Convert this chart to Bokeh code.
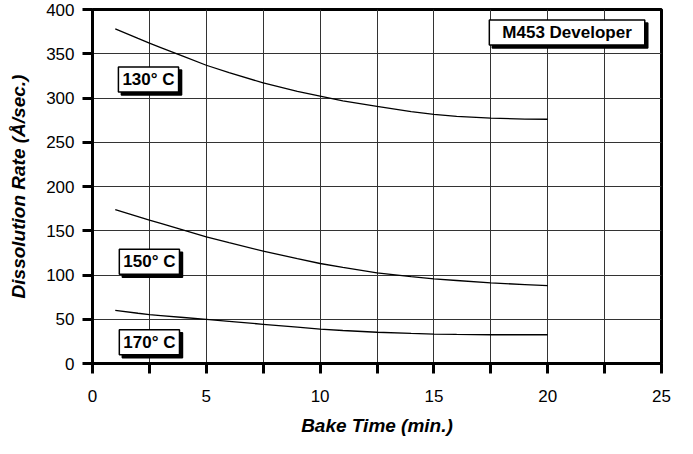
from bokeh.plotting import figure
from bokeh.models import FixedTicker, Label, Range1d
from bokeh.embed import file_html
from bokeh.resources import INLINE

bake_time = [1, 2, 2.5, 3, 4, 5, 6, 7.5, 9, 10, 11, 12.5, 14, 15, 16, 17.5, 19, 20]
rate_130 = [378, 367.3, 362, 357, 347, 337, 328.8, 317, 307.5, 302, 296.8, 290.5, 284.5, 281.5, 279.2, 277.2, 276.2, 276]
rate_150 = [174, 166, 162, 158.3, 150.6, 143, 136.5, 127, 118.5, 113, 108.6, 102.5, 98.2, 95.6, 93.8, 91, 89.2, 88]
rate_170 = [60, 56.8, 55.3, 54.2, 52, 49.8, 47.6, 44.3, 41, 38.8, 37.3, 35.3, 34, 33.3, 32.9, 32.5, 32.5, 32.5]

label_texts = ["130° C", "150° C", "170° C", "M453 Developer"]
label_x = [2.46, 2.5, 2.5, 20.85]
label_y = [321, 115, 24, 374]
label_pad_x = [4, 4, 4, 13]

x_ticks = [0, 2.5, 5, 7.5, 10, 12.5, 15, 17.5, 20, 22.5, 25]
y_ticks = [0, 50, 100, 150, 200, 250, 300, 350, 400]

FONT = "Liberation Sans"

p = figure(width=677, height=438, output_backend="svg", toolbar_location=None,
           x_range=Range1d(0, 25), y_range=Range1d(0, 400),
           min_border_left=92, min_border_right=16, min_border_top=9, min_border_bottom=69)

p.outline_line_color = "black"
p.outline_line_width = 3
p.background_fill_color = "white"
p.border_fill_color = "white"

p.xaxis.ticker = FixedTicker(ticks=x_ticks)
p.yaxis.ticker = FixedTicker(ticks=y_ticks)
p.xaxis.major_label_overrides = {2.5: "", 7.5: "", 12.5: "", 17.5: "", 22.5: ""}

for ax in (p.xaxis, p.yaxis):
    ax.axis_line_width = 3
    ax.axis_line_color = "black"
    ax.major_tick_line_width = 3
    ax.major_tick_line_color = "black"
    ax.major_tick_out = 10
    ax.major_tick_in = 0
    ax.minor_tick_line_color = None
    ax.major_label_text_font = FONT
    ax.major_label_text_font_size = "17px"
    ax.major_label_text_color = "black"
    ax.axis_label_text_font = FONT
    ax.axis_label_text_font_style = "bold italic"
    ax.axis_label_text_font_size = "19px"
    ax.axis_label_text_color = "black"

p.xaxis.major_label_standoff = 16
p.xaxis.axis_label_standoff = 10
p.yaxis.major_label_standoff = 8
p.yaxis.axis_label_standoff = 14
p.xaxis.axis_label = "Bake Time (min.)"
p.yaxis.axis_label = "Dissolution Rate (Å/sec.)"

p.xgrid.ticker = FixedTicker(ticks=x_ticks)
p.ygrid.ticker = FixedTicker(ticks=y_ticks)
for g in (p.xgrid, p.ygrid):
    g.grid_line_color = "#333333"
    g.grid_line_width = 1

for ys in (rate_130, rate_150, rate_170):
    p.line(bake_time, ys, line_color="black", line_width=1.3)

for t, lx, ly, px in zip(label_texts, label_x, label_y, label_pad_x):
    pad = {"left": px, "right": px, "top": 3, "bottom": 3}
    shadow = Label(x=lx, y=ly, text=t, x_offset=3, y_offset=-3,
                   text_align="center", text_baseline="middle",
                   text_font=FONT, text_font_style="bold", text_font_size="17px",
                   text_color="black", background_fill_color="black",
                   border_line_color="black", border_line_width=1.5, padding=pad)
    main = Label(x=lx, y=ly, text=t,
                 text_align="center", text_baseline="middle",
                 text_font=FONT, text_font_style="bold", text_font_size="17px",
                 text_color="black", background_fill_color="white",
                 border_line_color="black", border_line_width=1.5, padding=pad)
    p.add_layout(shadow)
    p.add_layout(main)

open("out.html", "w").write(file_html(p, INLINE))
